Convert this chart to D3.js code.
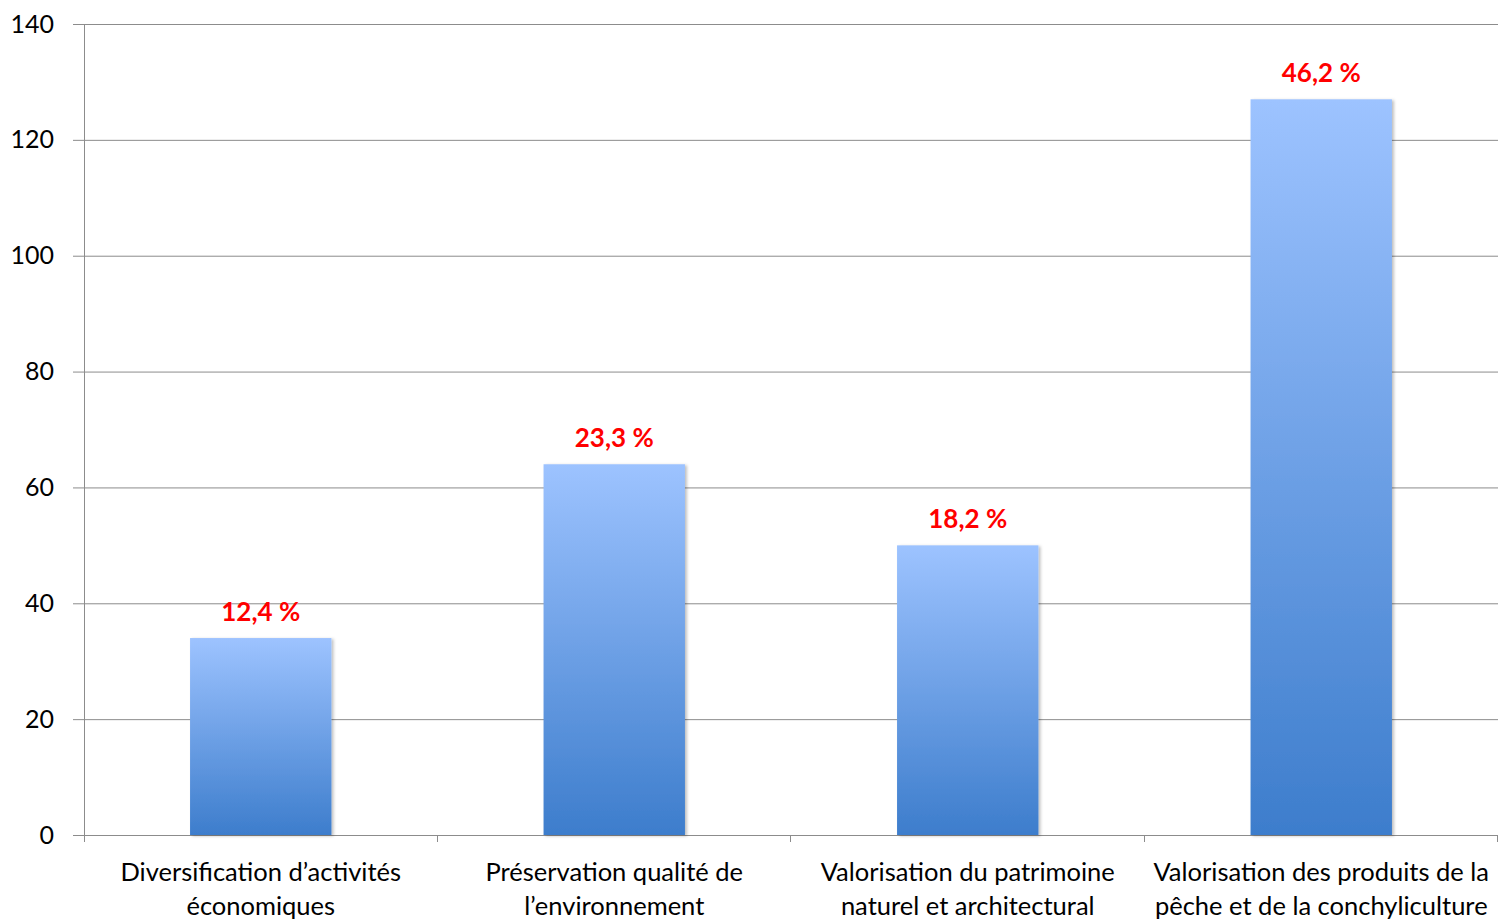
<!DOCTYPE html>
<html>
<head>
<meta charset="utf-8">
<script src="https://cdn.jsdelivr.net/npm/d3@7"></script>
<style>
	body { margin: 0; background: #fff; }
	svg { display: block; }
</style>
</head>
<body>
<div id="chart"></div>
<script>
"use strict";

// categories (two lines each) and bar values
var categories = [
	["Diversification d\u2019activit\u00e9s", "\u00e9conomiques"],
	["Pr\u00e9servation qualit\u00e9 de", "l\u2019environnement"],
	["Valorisation du patrimoine", "naturel et architectural"],
	["Valorisation des produits de la", "p\u00eache et de la conchyliculture"]
];
var values = [34, 64, 50, 127];
var percentLabels = ["12,4 %", "23,3 %", "18,2 %", "46,2 %"];
var yTicks = [0, 20, 40, 60, 80, 100, 120, 140];

var width = 1499, height = 920;
var margin = {top: 24, right: 1, bottom: 85, left: 84};

var svg = d3.select("#chart").append("svg")
	.attr("width", width)
	.attr("height", height);

var defs = svg.append("defs");
var grad = defs.append("linearGradient")
	.attr("id", "barGrad")
	.attr("x1", 0).attr("y1", 0)
	.attr("x2", 0).attr("y2", 1);
grad.append("stop").attr("offset", "0%").attr("stop-color", "#9dc3ff");
grad.append("stop").attr("offset", "100%").attr("stop-color", "#3d7dcc");

var filter = defs.append("filter").attr("id", "shadow")
	.attr("x", "-10%").attr("y", "-10%").attr("width", "130%").attr("height", "130%");
filter.append("feDropShadow")
	.attr("dx", 2).attr("dy", 1)
	.attr("stdDeviation", 1.5)
	.attr("flood-color", "#000")
	.attr("flood-opacity", 0.25);

var plotW = width - margin.left - margin.right;
var plotH = height - margin.top - margin.bottom;

var x = d3.scaleBand()
	.domain(d3.range(categories.length))
	.range([margin.left, margin.left + plotW])
	.paddingInner(0.6)
	.paddingOuter(0.3);

var y = d3.scaleLinear()
	.domain([0, 140])
	.range([margin.top + plotH, margin.top]);

var fontFamily = "Lato, 'Open Sans', sans-serif";

// gridlines + y axis (lines start 11px left of the axis line)
var yAxis = d3.axisLeft(y)
	.tickValues(yTicks)
	.tickSize(-(plotW + 11))
	.tickPadding(19)
	.tickFormat(d3.format("d"));

var gy = svg.append("g")
	.attr("transform", "translate(" + (margin.left - 11) + ",0)")
	.call(yAxis);
gy.select(".domain").remove();
gy.selectAll(".tick line")
	.attr("stroke", "#8c8c8c")
	.attr("stroke-width", 1);
gy.selectAll(".tick text")
	.style("font-family", fontFamily)
	.style("font-size", "25px")
	.attr("fill", "#000");

// vertical axis line
svg.append("line")
	.attr("x1", margin.left + 0.5).attr("x2", margin.left + 0.5)
	.attr("y1", y(140)).attr("y2", y(0) + 7)
	.attr("stroke", "#8c8c8c");

// category boundary ticks under the x axis
var step = plotW / categories.length;
var bounds = d3.range(categories.length + 1).map(function(i) { return margin.left + i * step; });
svg.selectAll(".xtick")
	.data(bounds.slice(1))
	.enter().append("line")
	.attr("x1", function(d) { return Math.round(d) - 0.5; })
	.attr("x2", function(d) { return Math.round(d) - 0.5; })
	.attr("y1", y(0))
	.attr("y2", y(0) + 7)
	.attr("stroke", "#8c8c8c");

// bars
svg.selectAll(".bar")
	.data(values)
	.enter().append("rect")
	.attr("class", "bar")
	.attr("x", function(d, i) { return x(i); })
	.attr("y", function(d) { return y(d); })
	.attr("width", x.bandwidth())
	.attr("height", function(d) { return y(0) - y(d); })
	.attr("fill", "url(#barGrad)")
	.attr("filter", "url(#shadow)");

// percent labels
svg.selectAll(".pct")
	.data(values)
	.enter().append("text")
	.attr("x", function(d, i) { return x(i) + x.bandwidth() / 2; })
	.attr("y", function(d) { return y(d) - 17; })
	.attr("text-anchor", "middle")
	.style("font-family", fontFamily)
	.style("font-size", "26px")
	.style("font-weight", "bold")
	.attr("fill", "#ff0000")
	.text(function(d, i) { return percentLabels[i]; });

// category labels
var catG = svg.selectAll(".cat")
	.data(categories)
	.enter().append("text")
	.attr("text-anchor", "middle")
	.style("font-family", fontFamily)
	.style("font-size", "25.5px")
	.attr("fill", "#000");
catG.each(function(lines, i) {
	var t = d3.select(this);
	lines.forEach(function(line, j) {
		t.append("tspan")
			.attr("x", x(i) + x.bandwidth() / 2)
			.attr("y", 881 + j * 34)
			.text(line);
	});
});
</script>
</body>
</html>
